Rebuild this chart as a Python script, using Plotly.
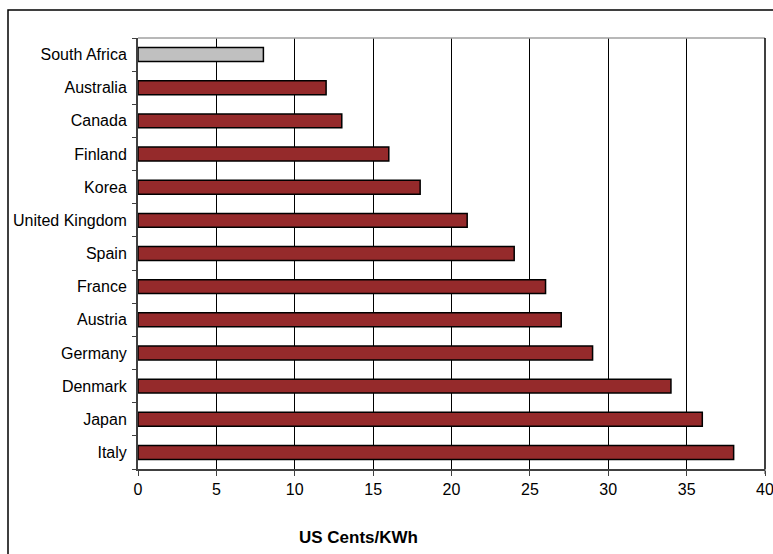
import plotly.graph_objects as go

countries = ["South Africa", "Australia", "Canada", "Finland", "Korea", "United Kingdom",
             "Spain", "France", "Austria", "Germany", "Denmark", "Japan", "Italy"]
cents = [8, 12, 13, 16, 18, 21, 24, 26, 27, 29, 34, 36, 38]
colors = ["#C0C0C0"] + ["#952A2B"] * 12
x_ticks = [0, 5, 10, 15, 20, 25, 30, 35, 40]

W, H = 773, 554
L, R, T, B = 138, 8, 38, 85
pw, ph = W - L - R, H - T - B

fig = go.Figure(go.Bar(
    y=countries, x=cents, orientation="h",
    marker=dict(color=colors, line=dict(color="black", width=1.5)),
    width=0.42,
))

fig.update_layout(
    template="none",
    width=W, height=H,
    margin=dict(l=L, r=R, t=T, b=B, autoexpand=False),
    paper_bgcolor="white", plot_bgcolor="white",
    font=dict(family="Liberation Sans, Arial", size=16, color="black"),
    showlegend=False,
    xaxis=dict(range=[0, 40], tickvals=x_ticks, showgrid=True, gridcolor="black",
               gridwidth=1, showline=True, linecolor="#404040", linewidth=2,
               ticks="outside", ticklen=5, tickcolor="#404040", zeroline=False,
               automargin=False, fixedrange=True, ticklabeloverflow="allow"),
    yaxis=dict(categoryorder="array", categoryarray=countries[::-1],
               showline=True, linecolor="#404040", linewidth=2,
               ticks="outside", ticklen=4, tickcolor="#404040",
               tickson="boundaries", showgrid=False, ticklabelstandoff=6,
               automargin=False, zeroline=False,
               range=[-0.5, len(countries) - 0.5]),
    annotations=[dict(text="<b>US Cents/KWh</b>", xref="paper", yref="paper",
                      x=(358 - L) / pw, y=-(537 - (T + ph)) / ph,
                      showarrow=False, font=dict(size=17), xanchor="center",
                      yanchor="middle")],
    shapes=[
        dict(type="rect", xref="paper", yref="paper",
             x0=(8 - L) / pw, x1=1.2, y0=-0.5, y1=1 + (T - 10) / ph,
             line=dict(color="black", width=1.5)),
        dict(type="line", xref="paper", yref="paper", x0=0, x1=1, y0=1, y1=1,
             line=dict(color="#A0A0A0", width=1.5)),
        dict(type="line", xref="paper", yref="paper", x0=1, x1=1, y0=0, y1=1,
             line=dict(color="black", width=1.5)),
        dict(type="line", xref="paper", yref="paper", x0=1, x1=1, y0=0, y1=-5 / ph,
             line=dict(color="#404040", width=1)),
    ],
)

fig.write_html("out.html")
